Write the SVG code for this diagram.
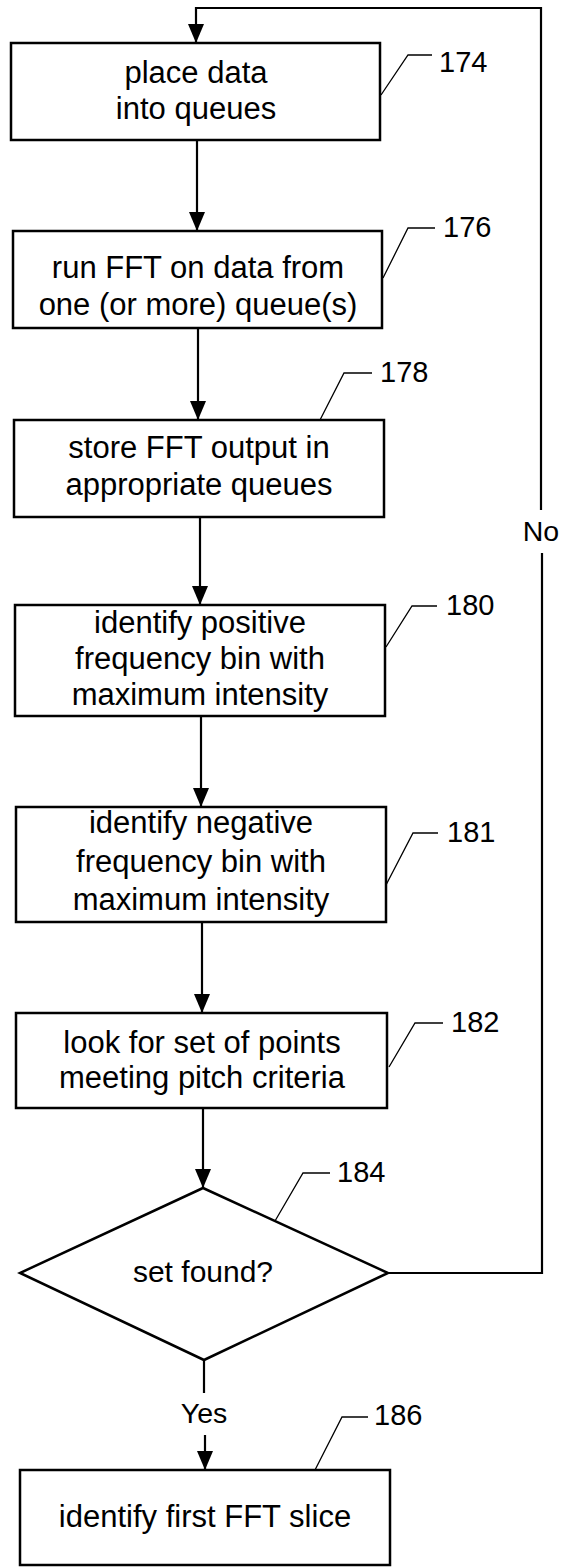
<svg xmlns="http://www.w3.org/2000/svg" width="564" height="1567" viewBox="0 0 564 1567">
<defs>
<style>
.box{fill:#fff;stroke:#000;stroke-width:2.5}
.t{font-family:"Liberation Sans",Arial,sans-serif;font-size:31px;fill:#000;text-anchor:middle}
.lbl{font-family:"Liberation Sans",Arial,sans-serif;font-size:29px;fill:#000}
.ld{fill:none;stroke:#000;stroke-width:1.3}
.c{fill:none;stroke:#000;stroke-width:2.2}
.cl{font-family:"Liberation Sans",Arial,sans-serif;font-size:28.5px;fill:#000;text-anchor:middle}
</style>
<marker id="ah" viewBox="0 0 19 16" refX="19" refY="8" markerWidth="19" markerHeight="16" markerUnits="userSpaceOnUse" orient="auto">
<path d="M0,0 L19,8 L0,16 z" fill="#000"/>
</marker>
</defs>
<rect width="564" height="1567" fill="#fff"/>
<g id="connectors">
<path class="c" d="M388,1273 H542 V553"/>
<path class="c" d="M541,510 V8 H196 V43" marker-end="url(#ah)"/>
<path class="c" d="M197,140 V231" marker-end="url(#ah)"/>
<path class="c" d="M198,328 V420" marker-end="url(#ah)"/>
<path class="c" d="M200,517 V605" marker-end="url(#ah)"/>
<path class="c" d="M201,716 V807" marker-end="url(#ah)"/>
<path class="c" d="M202,922 V1013" marker-end="url(#ah)"/>
<path class="c" d="M203,1108 V1188" marker-end="url(#ah)"/>
<path class="c" d="M204,1360 V1393"/>
<path class="c" d="M205,1435 V1470" marker-end="url(#ah)"/>
<text class="cl" x="541" y="541">No</text>
<text class="cl" x="204" y="1423">Yes</text>
</g>
<g id="n174">
<rect class="box" x="11" y="43" width="369" height="97"/>
<text class="t" x="196" y="83">place data</text>
<text class="t" x="196" y="119">into queues</text>
<path class="ld" d="M381,95 L408,55 H432"/>
<text class="lbl" x="439" y="72">174</text>
</g>
<g id="n176">
<rect class="box" x="13" y="231" width="369" height="97"/>
<text class="t" x="198" y="278">run FFT on data from</text>
<text class="t" x="198" y="315">one (or more) queue(s)</text>
<path class="ld" d="M383,278 L408,228 H435"/>
<text class="lbl" x="443" y="237">176</text>
</g>
<g id="n178">
<rect class="box" x="14" y="420" width="370" height="97"/>
<text class="t" x="199" y="458">store FFT output in</text>
<text class="t" x="199" y="495">appropriate queues</text>
<path class="ld" d="M320,420 L344,373 H372"/>
<text class="lbl" x="380" y="382">178</text>
</g>
<g id="n180">
<rect class="box" x="15" y="605" width="370" height="111"/>
<text class="t" x="200" y="633">identify positive</text>
<text class="t" x="200" y="669">frequency bin with</text>
<text class="t" x="200" y="705">maximum intensity</text>
<path class="ld" d="M386,647 L412,606 H437"/>
<text class="lbl" x="446" y="615">180</text>
</g>
<g id="n181">
<rect class="box" x="16" y="807" width="370" height="115"/>
<text class="t" x="201" y="833">identify negative</text>
<text class="t" x="201" y="872">frequency bin with</text>
<text class="t" x="201" y="910">maximum intensity</text>
<path class="ld" d="M386,885 L413,833 H438"/>
<text class="lbl" x="447" y="842">181</text>
</g>
<g id="n182">
<rect class="box" x="16" y="1013" width="371" height="95"/>
<text class="t" x="202" y="1053">look for set of points</text>
<text class="t" x="202" y="1088">meeting pitch criteria</text>
<path class="ld" d="M389,1067 L415,1023 H443"/>
<text class="lbl" x="451" y="1032">182</text>
</g>
<g id="n184">
<path class="box" d="M203,1188 L388,1273 L204,1360 L20,1273 Z"/>
<text class="t" x="203" y="1282" style="font-size:30px">set found?</text>
<path class="ld" d="M275,1221 L303,1173 H330"/>
<text class="lbl" x="337" y="1182">184</text>
</g>
<g id="n186">
<rect class="box" x="20" y="1470" width="370" height="95"/>
<text class="t" x="205" y="1527">identify first FFT slice</text>
<path class="ld" d="M315,1470 L342,1417 H368"/>
<text class="lbl" x="374" y="1425">186</text>
</g>
</svg>
